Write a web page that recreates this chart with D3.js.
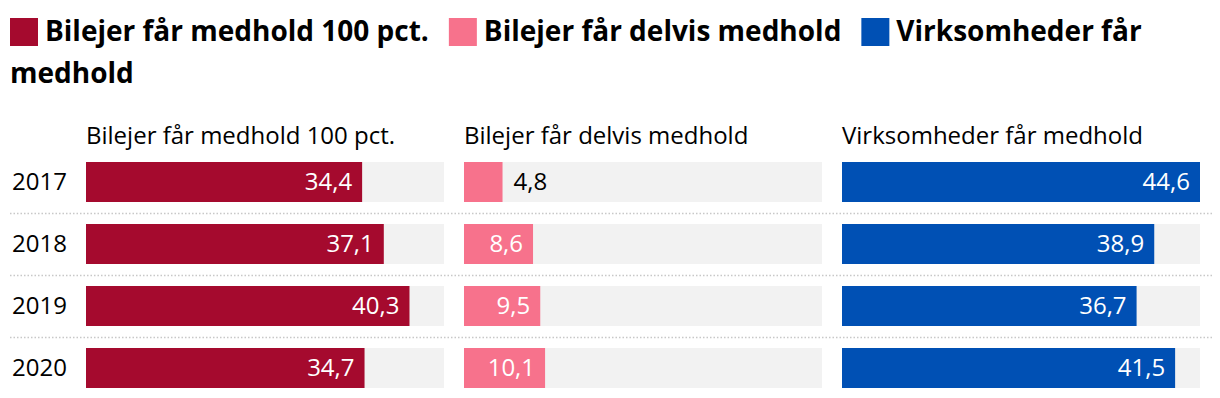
<!DOCTYPE html>
<html>
<head>
<meta charset="utf-8">
<script src="https://cdn.jsdelivr.net/npm/d3@7"></script>
<style>
body { margin: 0; background: #fff; font-family: "Open Sans", sans-serif; }
svg { display: block; }
</style>
</head>
<body>
<script>
var width = 1220
var height = 398

var years = ["2017", "2018", "2019", "2020"]
var series = ["Bilejer får medhold 100 pct.", "Bilejer får delvis medhold", "Virksomheder får medhold"]
var colors = ["#a50a2e", "#f7728c", "#0050b4"]
var full = [34.4, 37.1, 40.3, 34.7]
var partial = [4.8, 8.6, 9.5, 10.1]
var companies = [44.6, 38.9, 36.7, 41.5]
var values = [full, partial, companies]

var colLeft = [86, 464, 842]
var colWidth = 358

var svg = d3.select("body").append("svg")
.attr("width", width)
.attr("height", height)
.style("font-family", "'Open Sans', sans-serif")

// legend, wrapped by hand at the right edge
var legend = svg.append("g").attr("class", "legend")
var lx = 10, line = 0, lineHeight = 42, maxX = 1210
function legendText(str) {
    return legend.append("text")
    .attr("y", 41 + line * lineHeight)
    .style("font-size", "28px")
    .style("font-weight", 700)
    .style("fill", "#000")
    .text(str)
}
series.forEach(function(s, i) {
    legend.append("rect")
    .attr("x", lx)
    .attr("y", 18 + line * lineHeight)
    .attr("width", 28)
    .attr("height", 28)
    .style("fill", colors[i])
    lx += 35
    var words = s.split(" ")
    var cur = []
    var t = legendText("").attr("x", lx)
    words.forEach(function(w) {
        var trial = cur.concat([w]).join(" ")
        t.text(trial)
        if (lx + t.node().getComputedTextLength() > maxX && cur.length) {
            t.text(cur.join(" "))
            line++
            lx = 10
            cur = [w]
            t = legendText(w).attr("x", lx)
        } else {
            cur.push(w)
        }
    })
    lx += t.node().getComputedTextLength() + 20
})

var x = d3.scaleLinear()
.domain([0, d3.max(companies)])
.range([0, colWidth])

var y = d3.scaleBand()
.domain(years)
.range([162, 388])
.paddingInner(22/62)
.paddingOuter(0)

// dotted separators
svg.append("g").selectAll("line")
.data(years.slice(0, -1))
.enter().append("line")
.attr("x1", 10)
.attr("x2", 1212)
.attr("y1", function(d) { return Math.round(y(d) + y.bandwidth() + 11) + 0.5 })
.attr("y2", function(d) { return Math.round(y(d) + y.bandwidth() + 11) + 0.5 })
.attr("stroke", "#c8c8c8")
.attr("stroke-width", 1.5)
.attr("stroke-dasharray", "1.5,2")

// year labels
svg.append("g").selectAll("text")
.data(years)
.enter().append("text")
.attr("x", 12)
.attr("y", function(d) { return y(d) + y.bandwidth() / 2 })
.attr("dy", "0.35em")
.style("font-size", "24px")
.style("fill", "#000")
.text(function(d) { return d })

series.forEach(function(s, i) {
    var g = svg.append("g").attr("transform", "translate(" + colLeft[i] + ",0)")

    g.append("text")
    .attr("x", 0)
    .attr("y", 144)
    .style("font-size", "24px")
    .style("fill", "#000")
    .text(s)

    var rows = g.selectAll(".row")
    .data(values[i])
    .enter().append("g")
    .attr("transform", function(d, j) { return "translate(0," + y(years[j]) + ")" })

    rows.append("rect")
    .attr("width", colWidth)
    .attr("height", y.bandwidth())
    .style("fill", "#f2f2f2")

    rows.append("rect")
    .attr("width", function(d) { return x(d) })
    .attr("height", y.bandwidth())
    .style("fill", colors[i])

    rows.append("text")
    .attr("x", function(d) { return x(d) > 60 ? x(d) - 10 : x(d) + 11 })
    .attr("y", y.bandwidth() / 2)
    .attr("dy", "0.35em")
    .attr("text-anchor", function(d) { return x(d) > 60 ? "end" : "start" })
    .style("font-size", "24px")
    .style("fill", function(d) { return x(d) > 60 ? "#fff" : "#000" })
    .text(function(d) { return d3.format(".1f")(d).replace(".", ",") })
})
</script>
</body>
</html>
